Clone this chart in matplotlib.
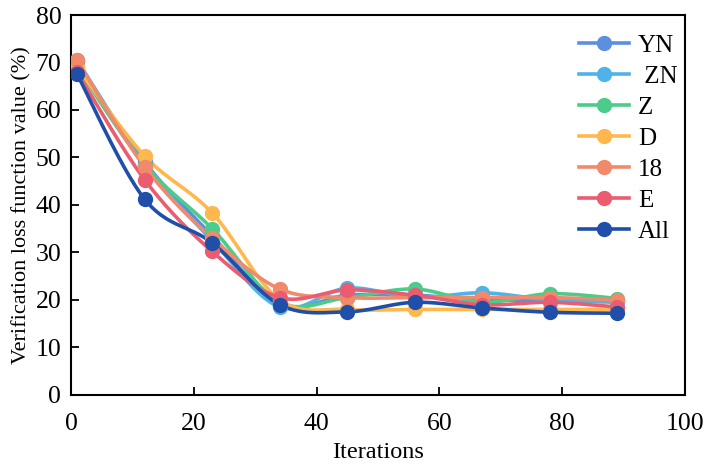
import numpy as np
import matplotlib
matplotlib.use("Agg")
import matplotlib.pyplot as plt

iterations = [1, 12, 23, 34, 45, 56, 67, 78, 89]
series_names = ["YN", " ZN", "Z", "D", "18", "E", "All"]
yn = [70.0, 49.0, 33.5, 19.0, 21.0, 21.0, 20.0, 20.0, 20.0]
zn = [70.5, 48.5, 32.5, 18.5, 22.5, 20.5, 21.5, 20.0, 19.5]
z = [69.0, 48.5, 35.0, 19.5, 20.5, 22.3, 19.5, 21.3, 20.3]
d = [69.0, 50.3, 38.3, 20.0, 18.0, 18.0, 18.0, 18.0, 18.0]
s18 = [70.5, 48.0, 33.0, 22.3, 20.5, 20.5, 20.5, 20.5, 20.0]
e = [68.0, 45.3, 30.2, 20.5, 22.1, 21.0, 19.0, 19.5, 18.5]
all_ = [67.5, 41.2, 32.0, 19.0, 17.5, 19.5, 18.3, 17.4, 17.2]
values = [yn, zn, z, d, s18, e, all_]
colors = ["#5b8fe0", "#4fb3e8", "#4ccc8a", "#ffb84d", "#f08a6a", "#ec5c70", "#1f4fa8"]

def smooth(x, y, n=30, t=1/6):
    x = np.asarray(x, float); y = np.asarray(y, float)
    px = np.concatenate([[x[0]], x, [x[-1]]])
    py = np.concatenate([[y[0]], y, [y[-1]]])
    xs, ys = [], []
    s = np.linspace(0, 1, n)
    for i in range(1, len(px) - 2):
        p0 = np.array([px[i], py[i]]); p3 = np.array([px[i+1], py[i+1]])
        p1 = p0 + t * (np.array([px[i+1], py[i+1]]) - np.array([px[i-1], py[i-1]]))
        p2 = p3 - t * (np.array([px[i+2], py[i+2]]) - np.array([px[i], py[i]]))
        b = ((1-s)**3)[:, None]*p0 + (3*(1-s)**2*s)[:, None]*p1 + (3*(1-s)*s**2)[:, None]*p2 + (s**3)[:, None]*p3
        xs.extend(b[:, 0]); ys.extend(b[:, 1])
    return xs, ys

plt.rcParams['font.family'] = ['Liberation Serif', 'DejaVu Serif']
fig = plt.figure(figsize=(7.08, 4.69), dpi=100)
ax = fig.add_axes([0.1003, 0.158, 0.8672, 0.81])

for name, vals, c in zip(series_names, values, colors):
    sx, sy = smooth(iterations, vals)
    ax.plot(sx, sy, color=c, lw=2.6, solid_capstyle='round', zorder=2)
    ax.plot(iterations, vals, 'o', color=c, ms=10, zorder=3)
    ax.plot([], [], '-o', color=c, lw=2.6, ms=10, label=name)

ax.set_xlim(0, 100)
ax.set_ylim(0, 80)
ax.set_xticks(range(0, 101, 20))
ax.set_yticks(range(0, 81, 10))
ax.tick_params(direction='in', length=6, width=1.3, labelsize=18.5, pad=7)
ax.tick_params(axis='x', pad=13)
for sp in ax.spines.values():
    sp.set_linewidth(1.5)
ax.set_xlabel("Iterations", fontsize=17.5, labelpad=5)
ax.set_ylabel("Verification loss function value (%)", fontsize=16, labelpad=3)
leg = ax.legend(loc='upper right', frameon=False, fontsize=18, handlelength=2.0,
                labelspacing=0.34, handletextpad=0.35, borderaxespad=0.0,
                bbox_to_anchor=(1.004, 0.975))
fig.savefig("out.png", dpi=100)
